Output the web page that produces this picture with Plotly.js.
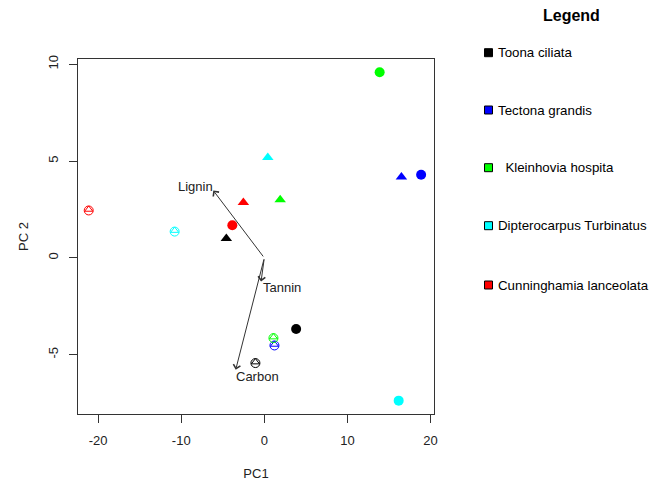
<!DOCTYPE html>
<html>
<head>
<meta charset="utf-8">
<script src="https://cdn.plot.ly/plotly-3.0.1.min.js"></script>
<style>html,body{margin:0;padding:0;background:#fff;}#chart{width:650px;height:483px;}</style>
</head>
<body>
<div id="chart"></div>
<script>
// ---- data ----
const species = ["Toona ciliata", "Tectona grandis", "Kleinhovia hospita", "Dipterocarpus Turbinatus", "Cunninghamia lanceolata"];
const legendLabels = ["Toona ciliata", "Tectona grandis", "\u00a0\u00a0Kleinhovia hospita", "Dipterocarpus Turbinatus", "Cunninghamia lanceolata"];
const colors = ["#000000", "#0000FF", "#00FF00", "#00FFFF", "#FF0000"];
const circleX = [3.83, 18.87, 13.88, 16.17, -3.85];
const circleY = [-3.67, 4.29, 9.59, -7.37, 1.69];
const triX = [-4.57, 16.5, 1.91, 0.42, -2.52];
const triY = [1.0, 4.18, 3.0, 5.18, 2.86];
const openX = [-1.07, 1.22, 1.1, -10.79, -21.13];
const openY = [-5.43, -4.52, -4.14, 1.36, 2.45];
const loadings = ["Lignin", "Tannin", "Carbon"];
const loadX = [-6.14, -0.39, -3.44];
const loadY = [3.48, -1.22, -5.77];
const labelX = [-8.34, 2.11, -0.83];
const labelY = [3.68, -1.51, -6.12];
const xTicks = [-20, -10, 0, 10, 20];
const yTicks = [-5, 0, 5, 10];

// ---- layout helpers (pixel -> paper) ----
const W = 650, H = 483, ML = 78, MR = 216, MT = 59, MB = 69;
const PW = W - ML - MR, PH = H - MT - MB;
const px = p => (p - ML) / PW;
const py = p => (H - MB - p) / PH;
const FONT = "Liberation Sans, Arial, sans-serif";

const traces = [];
species.forEach((s, i) => {
  traces.push({x: [circleX[i]], y: [circleY[i]], type: "scatter", mode: "markers", name: s,
    marker: {symbol: "circle", size: 10, color: colors[i]}, showlegend: false, hoverinfo: "skip"});
  traces.push({x: [triX[i]], y: [triY[i]], type: "scatter", mode: "markers", name: s,
    marker: {symbol: "triangle-up", size: 10, color: colors[i]}, showlegend: false, hoverinfo: "skip"});
  traces.push({x: [openX[i]], y: [openY[i]], type: "scatter", mode: "markers", name: s,
    marker: {symbol: "circle-open", size: 9, color: colors[i], line: {width: 1, color: colors[i]}}, showlegend: false, hoverinfo: "skip"});
  traces.push({x: [openX[i]], y: [openY[i] + 0.05], type: "scatter", mode: "markers", name: s,
    marker: {symbol: "triangle-up-open", size: 7, color: colors[i], line: {width: 1, color: colors[i]}}, showlegend: false, hoverinfo: "skip"});
});

const annotations = [];
const shapes = [];
loadings.forEach((l, i) => {
  annotations.push({x: loadX[i], y: loadY[i], ax: 0, ay: 0, axref: "x", ayref: "y", xref: "x", yref: "y",
    showarrow: true, arrowhead: 4, arrowsize: 1.4, arrowwidth: 1, arrowcolor: "#333333", text: ""});
  annotations.push({x: labelX[i], y: labelY[i], xref: "x", yref: "y", text: l, showarrow: false,
    font: {family: FONT, size: 13, color: "#222"}, xanchor: "center", yanchor: "middle"});
});

// legend
annotations.push({x: px(571.7), y: py(16), xref: "paper", yref: "paper", text: "<b>Legend</b>", showarrow: false,
  font: {family: FONT, size: 16, color: "#000"}, xanchor: "center", yanchor: "middle"});
const legendY = [52.7, 110, 167.7, 225.7, 285];
legendLabels.forEach((l, i) => {
  shapes.push({type: "rect", xref: "paper", yref: "paper", x0: px(484.5), x1: px(492.5),
    y0: py(legendY[i] + 4), y1: py(legendY[i] - 4), fillcolor: colors[i], line: {color: "#000", width: 1}});
  annotations.push({x: px(495.5), y: py(legendY[i]), xref: "paper", yref: "paper", text: l, showarrow: false,
    font: {family: FONT, size: 13.3, color: "#000"}, xanchor: "left", yanchor: "middle"});
});

const axisCommon = {showgrid: false, zeroline: false, showline: true, mirror: true, linecolor: "#333", linewidth: 1,
  ticks: "outside", ticklen: 8, tickcolor: "#333", tickwidth: 1, tickfont: {family: FONT, size: 13, color: "#222"},
  tickmode: "array", automargin: false, fixedrange: true};

const layout = {
  width: W, height: H,
  margin: {l: ML, r: MR, t: MT, b: MB, pad: 0},
  paper_bgcolor: "#fff", plot_bgcolor: "#fff",
  showlegend: false,
  xaxis: Object.assign({}, axisCommon, {range: [-22.42, 20.42], tickvals: xTicks, ticktext: xTicks.map(String),
    ticklabelstandoff: 6, title: {text: "PC1", font: {family: FONT, size: 13, color: "#222"}, standoff: 22}}),
  yaxis: Object.assign({}, axisCommon, {range: [-8.06, 10.27], tickvals: yTicks, ticktext: yTicks.map(String),
    tickangle: -90, ticklabelstandoff: 6, title: {text: "PC 2", font: {family: FONT, size: 13, color: "#222"}, standoff: 14}}),
  annotations: annotations,
  shapes: shapes
};

Plotly.newPlot("chart", traces, layout, {staticPlot: true, displayModeBar: false});
</script>
</body>
</html>
